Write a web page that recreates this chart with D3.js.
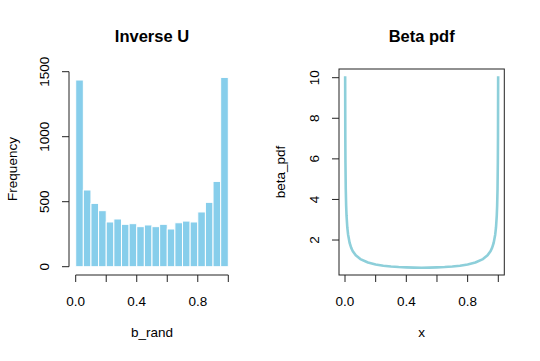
<!DOCTYPE html>
<html><head><meta charset="utf-8">
<script src="https://cdn.jsdelivr.net/npm/d3@7"></script>
<style>body{margin:0;background:#fff}svg{display:block}text{font-family:"Liberation Sans",Arial,sans-serif;fill:#000}</style>
</head><body>
<svg id="c" width="540" height="361"></svg>
<script>
const binStarts = [0,0.05,0.1,0.15,0.2,0.25,0.3,0.35,0.4,0.45,0.5,0.55,0.6,0.65,0.7,0.75,0.8,0.85,0.9,0.95];
const counts = [1436,590,487,431,344,367,326,331,308,321,308,326,290,338,351,344,421,495,656,1456];
const binWidth = 0.05;
const histYTicks = [0,500,1000,1500];
const xTicks = [0,0.2,0.4,0.6,0.8,1.0];
const xTickLabels = ["0.0","0.4","0.8"];

const pdfX = [0.001,0.002,0.003,0.005,0.0075,0.01,0.015,0.02,0.03,0.04,0.05,0.07,0.1,0.15,0.2,0.25,0.3,0.35,0.4,0.45,0.5,
  0.55,0.6,0.65,0.7,0.75,0.8,0.85,0.9,0.93,0.95,0.96,0.97,0.98,0.985,0.99,0.9925,0.995,0.997,0.998,0.999];
const pdfY = [10.07,7.125,5.82,4.513,3.689,3.199,2.619,2.274,1.866,1.624,1.461,1.248,1.061,0.891,0.796,0.735,0.695,0.667,0.650,0.640,0.637,
  0.640,0.650,0.667,0.695,0.735,0.796,0.891,1.061,1.248,1.461,1.624,1.866,2.274,2.619,3.199,3.689,4.513,5.82,7.125,10.07];
const pdfYTicks = [2,4,6,8,10];

const svg = d3.select("#c");
const axisCol = "#222";
const fs = 13.5, fsTitle = 16.5;

// ---------- Left: histogram ----------
const xL = d3.scaleLinear().domain([0,1]).range([75.7,228.3]);
const yL = d3.scaleLinear().domain([0,1500]).range([266.7,71.7]);

svg.append("g").selectAll("rect").data(counts).join("rect")
  .attr("x",(d,i)=>xL(binStarts[i]))
  .attr("width",(d,i)=>xL(binStarts[i]+binWidth)-xL(binStarts[i]))
  .attr("y",d=>yL(d))
  .attr("height",d=>yL(0)-yL(d))
  .attr("fill","#87CEEB").attr("stroke","#fff").attr("stroke-width",1);

const gyl = svg.append("g").attr("transform","translate(69,0)");
gyl.append("line").attr("x1",0).attr("x2",0).attr("y1",yL(0)).attr("y2",yL(1500)).attr("stroke",axisCol);
gyl.selectAll("line.t").data(histYTicks).join("line").attr("class","t")
  .attr("x1",-7).attr("x2",0).attr("y1",d=>yL(d)).attr("y2",d=>yL(d)).attr("stroke",axisCol);
gyl.selectAll("text").data(histYTicks).join("text")
  .attr("transform",d=>`translate(-25,${yL(d)}) rotate(-90)`)
  .attr("text-anchor","middle").attr("dy","0.35em").attr("font-size",fs).text(d=>d);

const gxl = svg.append("g").attr("transform","translate(0,275)");
gxl.append("line").attr("x1",xL(0)).attr("x2",xL(1)).attr("y1",0).attr("y2",0).attr("stroke",axisCol);
gxl.selectAll("line.t").data(xTicks).join("line").attr("class","t")
  .attr("x1",d=>xL(d)).attr("x2",d=>xL(d)).attr("y1",0).attr("y2",7).attr("stroke",axisCol);
svg.append("g").selectAll("text").data(xTickLabels).join("text")
  .attr("x",d=>xL(+d)).attr("y",305.5).attr("text-anchor","middle").attr("font-size",fs).text(d=>d);

svg.append("text").attr("x",152).attr("y",42).attr("text-anchor","middle")
  .attr("font-size",fsTitle).attr("font-weight","bold").text("Inverse U");
svg.append("text").attr("x",152).attr("y",337).attr("text-anchor","middle").attr("font-size",fs).text("b_rand");
svg.append("text").attr("transform","translate(17,169) rotate(-90)").attr("text-anchor","middle").attr("font-size",fs).text("Frequency");

// ---------- Right: beta pdf ----------
const xR = d3.scaleLinear().domain([0,1]).range([345,498.3]);
const yR = d3.scaleLinear().domain([0,10]).range([280.6,77.7]);

const line = d3.line().x(d=>xR(d[0])).y(d=>yR(d[1]));
svg.append("path").datum(pdfX.map((x,i)=>[x,pdfY[i]]))
  .attr("d",line).attr("fill","none").attr("stroke","#8DCFDA").attr("stroke-width",2.6)
  .attr("stroke-linejoin","round");

svg.append("rect").attr("x",339).attr("y",69).attr("width",165.3).attr("height",206)
  .attr("fill","none").attr("stroke",axisCol);

const gyr = svg.append("g").attr("transform","translate(339,0)");
gyr.selectAll("line").data(pdfYTicks).join("line")
  .attr("x1",-7).attr("x2",0).attr("y1",d=>yR(d)).attr("y2",d=>yR(d)).attr("stroke",axisCol);
gyr.selectAll("text").data(pdfYTicks).join("text")
  .attr("transform",d=>`translate(-25,${yR(d)}) rotate(-90)`)
  .attr("text-anchor","middle").attr("dy","0.35em").attr("font-size",fs).text(d=>d);

const gxr = svg.append("g").attr("transform","translate(0,275)");
gxr.selectAll("line.t").data(xTicks).join("line").attr("class","t")
  .attr("x1",d=>xR(d)).attr("x2",d=>xR(d)).attr("y1",0).attr("y2",7).attr("stroke",axisCol);
svg.append("g").selectAll("text").data(xTickLabels).join("text")
  .attr("x",d=>xR(+d)).attr("y",305.5).attr("text-anchor","middle").attr("font-size",fs).text(d=>d);

svg.append("text").attr("x",421.7).attr("y",42).attr("text-anchor","middle")
  .attr("font-size",fsTitle).attr("font-weight","bold").text("Beta pdf");
svg.append("text").attr("x",421.7).attr("y",337).attr("text-anchor","middle").attr("font-size",fs).text("x");
svg.append("text").attr("transform","translate(285,172) rotate(-90)").attr("text-anchor","middle").attr("font-size",fs).text("beta_pdf");
</script>
</body></html>
